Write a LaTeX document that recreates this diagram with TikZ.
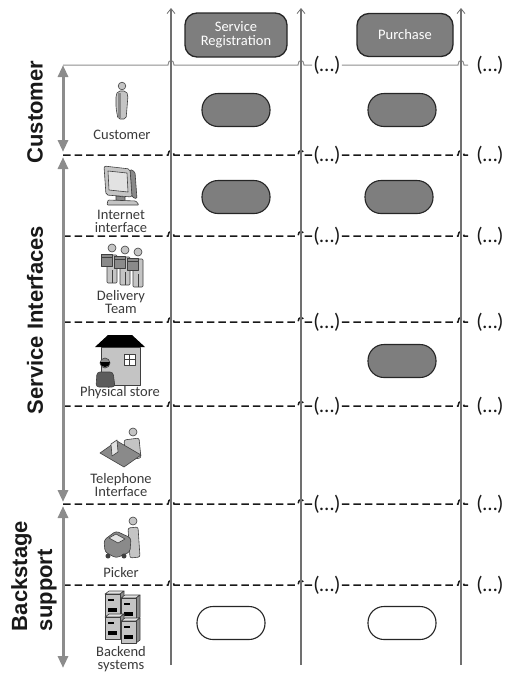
\documentclass[tikz,border=0pt]{standalone}
\usepackage{fontspec}
\setmainfont{Carlito}
\newfontfamily\headfont{Liberation Sans}
\usetikzlibrary{arrows.meta}

\definecolor{laneGray}{HTML}{707070}
\definecolor{topGray}{HTML}{8E8E8E}
\definecolor{spanGray}{HTML}{8C8C8C}
\definecolor{pillFill}{HTML}{7E7E7E}
\definecolor{pillEdge}{HTML}{262626}
\definecolor{labelInk}{HTML}{3A3A3A}
\definecolor{iconDark}{HTML}{3F3F3F}
\definecolor{iconMid}{HTML}{8A8A8A}
\definecolor{iconLight}{HTML}{C4C4C4}
\definecolor{iconPale}{HTML}{E2E2E2}

\tikzset{
  lane/.style={draw=laneGray, line width=1.3pt,
    -{Straight Barb[length=5pt,width=8pt,line width=0.8pt]}},
  headline/.style={draw=topGray, line width=1pt},
  sepline/.style={draw=black!90, line width=1.5pt, dash pattern=on 7.5pt off 4pt},
  span/.style={draw=spanGray, line width=3pt,
    {Triangle[length=12pt,width=10pt]}-{Triangle[length=12pt,width=10pt]}},
  stagebox/.style={draw=pillEdge, fill=pillFill, line width=1.3pt,
    rounded corners=12pt, text=white, align=center, inner sep=2pt,
    font=\fontsize{14.5}{14.5}\selectfont},
  act/.style={draw=pillEdge, fill=pillFill, line width=1.1pt,
    rounded corners=16pt, minimum width=68pt, minimum height=33pt},
  actwhite/.style={act, fill=white},
  lab/.style={text=labelInk, align=center, inner sep=0pt,
    font=\fontsize{14.5}{13}\selectfont},
  more/.style={text=black!90, inner sep=1pt,
    font=\fontsize{21}{21}\selectfont},
  laneTitle/.style={rotate=90, inner sep=0pt, text=black!90,
    font=\headfont\bfseries\fontsize{22}{25}\selectfont},
  icon/.style={draw=iconDark, line width=0.6pt, line join=round}
}

\begin{document}
\begin{tikzpicture}[x=1pt,y=-1pt]
\useasboundingbox (0,0) rectangle (511,675);

% ---- swimlane separators -------------------------------------------
\coordinate (h0) at (63,65);
\node[more] (p0) at (327,65) {(…)};
\node[more] (q0) at (490,65) {(…)};
\draw[headline] (h0) -- (168,65) .. controls (168,59) and (174,59) .. (174,65)
  -- (298,65) .. controls (298,59) and (304,59) .. (304,65) -- (p0.west);
\draw[headline, shorten >=7pt] (p0.east) -- (458,65)
  .. controls (458,59) and (464,59) .. (464,65) -- (q0.west);

\foreach \y [count=\i] in {155,236,322,406,504,585} {
  \coordinate (h\i) at (63,\y);
  \node[more] (p\i) at (327,\y) {(…)};
  \node[more] (q\i) at (490,\y) {(…)};
  \draw[sepline] (h\i) -- (168,\y) .. controls (168,\y-6) and (174,\y-6) .. (174,\y)
    -- (298,\y) .. controls (298,\y-6) and (304,\y-6) .. (304,\y) -- (p\i.west);
  \draw[sepline, shorten >=7pt] (p\i.east) -- (458,\y)
    .. controls (458,\y-6) and (464,\y-6) .. (464,\y) -- (q\i.west);
}

% ---- stage axes -------------------------------------------------------
\foreach \x [count=\j] in {171,301,461} {
  \coordinate (vb\j) at (\x,665);
  \coordinate (vt\j) at (\x,8);
  \draw[lane] (vb\j) -- (vt\j);
}

% ---- stage headers ----------------------------------------------------
\node[stagebox, minimum width=102pt, minimum height=44pt] (reg) at (236,35)
  {Service\\Registration};
\node[stagebox, minimum width=96pt, minimum height=43pt] (buy) at (405,35)
  {Purchase};

% ---- activities ---------------------------------------------------------
\node[act] (regCust) at (236,110) {};
\node[act] (buyCust) at (402,110) {};
\node[act] (regWeb)  at (236,197) {};
\node[act] (buyWeb)  at (399,197) {};
\node[act] (buyShop) at (402,361) {};
\node[actwhite] (regBack) at (231,623) {};
\node[actwhite] (buyBack) at (402,623) {};

% ---- layer spans and titles ---------------------------------------------
\coordinate (s1t) at (63,65);   \coordinate (s1b) at (63,152);
\coordinate (s2t) at (63,157);  \coordinate (s2b) at (63,502);
\coordinate (s3t) at (63,506);  \coordinate (s3b) at (63,668);
\draw[span] (s1t) -- (s1b);
\draw[span] (s2t) -- (s2b);
\draw[span] (s3t) -- (s3b);

\node[laneTitle] (tCust) at (35,112) {Customer};
\node[laneTitle] (tServ) at (35,320) {Service Interfaces};
\node[laneTitle, align=left] (tBack) at (34,576) {Backstage\\support};

% ---- actor labels -------------------------------------------------------
\node[lab] (lCust)  at (122,135) {Customer};
\node[lab] (lWeb)   at (121,221) {Internet\\interface};
\node[lab] (lTeam)  at (121,302) {Delivery\\Team};
\node[lab] (lShop)  at (120,393) {Physical store};
\node[lab] (lPhone) at (121,485) {Telephone\\Interface};
\node[lab] (lPick)  at (121,573) {Picker};
\node[lab] (lBack)  at (121,659) {Backend\\systems};

% ---- actor icons --------------------------------------------------------
% customer
\filldraw[icon, fill=iconLight, rounded corners=2pt]
  (116,95) -- (118,91) -- (126,91) -- (128,95) -- (127,108) -- (126,119)
  -- (118,119) -- (116,108) -- cycle;
\fill[iconMid] (118,93) -- (121,93) -- (121,118) -- (118,118) -- cycle;
\filldraw[icon, fill=iconLight] (122,86) circle (3.8pt);

% internet interface (monitor)
\filldraw[icon, fill=iconMid, rounded corners=1.5pt]
  (130,169) -- (135,172) -- (137,199) -- (132,197) -- cycle;
\filldraw[icon, fill=iconLight, rounded corners=2pt]
  (104,166) -- (130,169) -- (132,197) -- (106,195) -- cycle;
\filldraw[icon, fill=iconPale]
  (108,171) -- (127,173) -- (128,192) -- (109,190) -- cycle;
\filldraw[icon, fill=iconMid] (116,196) -- (125,197) -- (125,201) -- (116,200) -- cycle;
\filldraw[icon, fill=iconLight, rounded corners=1pt]
  (108,200) -- (136,201) -- (139,205) -- (107,205) -- cycle;

% delivery team
\foreach \cx/\cy in {107/244,120/246,133/248} {
  \filldraw[icon, fill=iconLight, rounded corners=1pt] (\cx,\cy+11) rectangle (\cx+10,\cy+39);
  \draw[icon] (\cx+5,\cy+26) -- (\cx+5,\cy+39);
  \filldraw[icon, fill=iconMid] (\cx-6,\cy+10) rectangle (\cx+5,\cy+22);
  \draw[icon] (\cx-6,\cy+13) -- (\cx+5,\cy+13);
  \filldraw[icon, fill=iconLight] (\cx+5,\cy+4) circle (4pt);
}

% physical store
\fill[black] (95,347) -- (108,335) -- (132,335) -- (145,347) -- cycle;
\filldraw[icon, fill=iconLight] (101,347) rectangle (140,385);
\filldraw[icon, fill=white] (124,354) rectangle (135,365);
\draw[iconDark, line width=0.6pt] (129.5,354) -- (129.5,365) (124,359.5) -- (135,359.5);
\filldraw[icon, fill=iconDark!85, rounded corners=3pt]
  (96,387) -- (97,372) -- (113,372) -- (115,387) -- cycle;
\filldraw[icon, fill=iconMid] (105,363) circle (5pt);
\fill[black] (100,362) arc[start angle=180, end angle=360, radius=5pt] -- cycle;

% telephone interface
\filldraw[icon, fill=iconLight, rounded corners=2pt]
  (124,440) -- (139,438) -- (141,458) -- (126,460) -- cycle;
\filldraw[icon, fill=iconLight] (133,432) circle (4pt);
\filldraw[icon, fill=iconMid]
  (100,453) -- (117,441) -- (141,455) -- (124,467) -- cycle;
\filldraw[icon, fill=iconPale]
  (111,444) -- (117,440) -- (118,452) -- (112,456) -- cycle;

% picker
\filldraw[icon, fill=iconLight, rounded corners=2pt]
  (128,528) -- (138,527) -- (140,557) -- (130,558) -- cycle;
\filldraw[icon, fill=iconLight] (133,521) circle (4pt);
\filldraw[icon, fill=iconMid, rounded corners=3pt]
  (104,540) -- (116,531) -- (131,538) -- (130,552) -- (116,558) -- (105,552) -- cycle;
\filldraw[icon, fill=iconPale] (109,538) -- (116,534) -- (125,539) -- (118,543) -- cycle;
\filldraw[icon, fill=iconDark] (108,556) circle (2.2pt);
\filldraw[icon, fill=iconDark] (124,556) circle (2.2pt);

% backend systems
\foreach \bx/\by in {105/594,121/598,105/617,121/621} {
  \filldraw[icon, fill=iconPale] (\bx,\by) -- (\bx+4,\by-3) -- (\bx+19,\by-3)
    -- (\bx+15,\by) -- cycle;
  \filldraw[icon, fill=iconMid] (\bx+15,\by) -- (\bx+19,\by-3) -- (\bx+19,\by+19)
    -- (\bx+15,\by+22) -- cycle;
  \filldraw[icon, fill=iconLight] (\bx,\by) rectangle (\bx+15,\by+22);
  \fill[black] (\bx+3,\by+5) rectangle (\bx+9,\by+7);
  \fill[black] (\bx+3,\by+14) rectangle (\bx+12,\by+18);
}
\end{tikzpicture}
\end{document}
